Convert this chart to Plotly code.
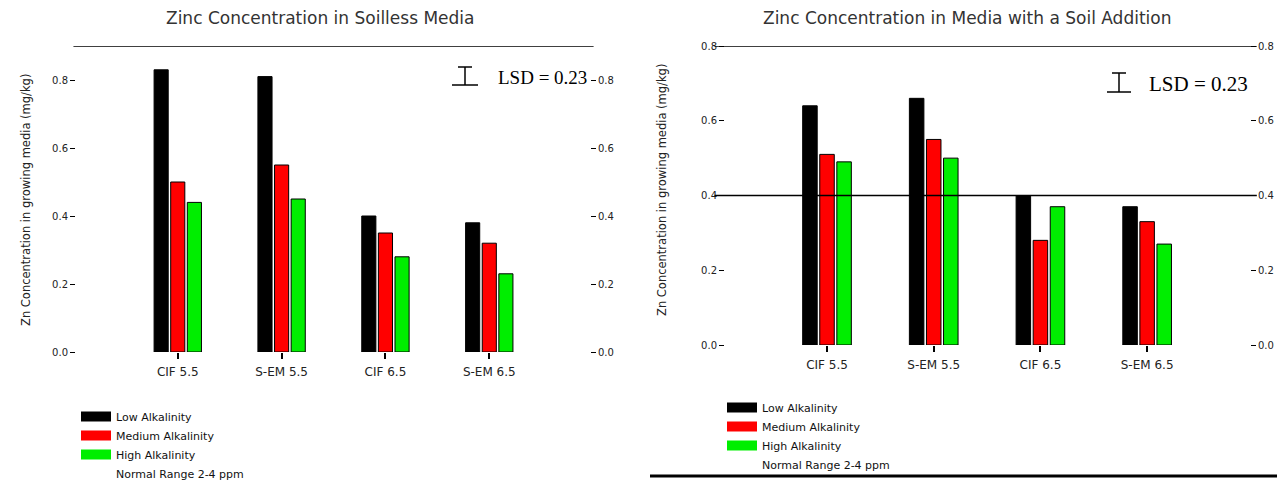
import plotly.graph_objects as go

# ---------------- data ----------------
categories = ["CIF 5.5", "S-EM 5.5", "CIF 6.5", "S-EM 6.5"]
series_names = ["Low Alkalinity", "Medium Alkalinity", "High Alkalinity"]
series_colors = ["#000000", "#ff0000", "#00ee00"]

soilless_low = [0.83, 0.81, 0.40, 0.38]
soilless_med = [0.50, 0.55, 0.35, 0.32]
soilless_high = [0.44, 0.45, 0.28, 0.23]

soil_low = [0.64, 0.66, 0.40, 0.37]
soil_med = [0.51, 0.55, 0.28, 0.33]
soil_high = [0.49, 0.50, 0.37, 0.27]

y_tick_values = [0.0, 0.2, 0.4, 0.6, 0.8]
y_tick_labels = ["0.0", "0.2", "0.4", "0.6", "0.8"]
left_ref_lines = [0.9]
right_ref_lines = [0.4, 0.8]
lsd_label = "LSD = 0.23"
normal_range_label = "Normal Range 2-4 ppm"
left_title = "Zinc Concentration in Soilless Media"
right_title = "Zinc Concentration in Media with a Soil Addition"
y_title = "Zn Concentration in growing media (mg/kg)"

# ---------------- layout helpers ----------------
# the page body has an 8px margin, so the figure is drawn 8px in from the window corner
OFF = 8
W, H = 1285 - OFF, 483 - OFF
def px(x):
    return (x - OFF) / W
def py(y):
    return 1 - (y - OFF) / H

SANS = "DejaVu Sans"
SERIF = "Liberation Serif"

fig = go.Figure()

left_sets = [soilless_low, soilless_med, soilless_high]
right_sets = [soil_low, soil_med, soil_high]

for name, color, vals in zip(series_names, series_colors, left_sets):
    fig.add_trace(go.Bar(x=categories, y=vals, name=name, marker=dict(color=color, line=dict(color="#000", width=1)),
                         xaxis="x", yaxis="y", offsetgroup=name, showlegend=False))
for name, color, vals in zip(series_names, series_colors, right_sets):
    fig.add_trace(go.Bar(x=categories, y=vals, name=name, marker=dict(color=color, line=dict(color="#000", width=1)),
                         xaxis="x2", yaxis="y2", offsetgroup=name, showlegend=False))

# dummy traces so the mirrored right-hand axes get drawn
fig.add_trace(go.Scatter(x=[categories[0]], y=[None], xaxis="x", yaxis="y3", showlegend=False, hoverinfo="skip"))
fig.add_trace(go.Scatter(x=[categories[0]], y=[None], xaxis="x2", yaxis="y4", showlegend=False, hoverinfo="skip"))

# legend entries (wide swatches)
for lg in ["legend", "legend2"]:
    for name, color in zip(series_names, series_colors):
        fig.add_trace(go.Scatter(x=[None], y=[None], mode="lines", name=name,
                                 line=dict(color=color, width=10), legend=lg, hoverinfo="skip"))
    fig.add_trace(go.Scatter(x=[None], y=[None], mode="lines", name=normal_range_label,
                             line=dict(color="rgba(0,0,0,0)", width=10), legend=lg, hoverinfo="skip"))

tickfont = dict(family=SANS, size=10, color="#222")
catfont = dict(family=SANS, size=12, color="#222")

def yax(domain, rng, anchor, side="left", overlay=None):
    d = dict(domain=domain, range=rng, tickvals=y_tick_values, ticktext=y_tick_labels, anchor=anchor,
             ticks="outside", ticklen=5, tickwidth=1, tickcolor="#000", showgrid=False,
             zeroline=False, showline=False, tickfont=tickfont, side=side, fixedrange=True)
    if overlay:
        d["overlaying"] = overlay
    return d

def xax(domain, rng, anchor):
    return dict(domain=domain, range=rng, type="category", categoryorder="array", categoryarray=categories,
                ticks="outside", ticklen=6, tickwidth=2, tickcolor="#000", showgrid=False, zeroline=False,
                showline=False, tickfont=catfont, anchor=anchor, ticklabelstandoff=3, fixedrange=True)

left_xd = [px(76), px(590)]
left_yd = [py(352), py(46)]
right_xd = [px(725), px(1250)]
right_yd = [py(345), py(46)]

legend_common = dict(xanchor="left", yanchor="top", bgcolor="rgba(0,0,0,0)", tracegroupgap=0,
                     font=dict(family=SANS, size=11, color="#111"), itemclick=False, itemdoubleclick=False)

fig.update_layout(
    width=W, height=H, margin=dict(l=0, r=0, t=0, b=0, autoexpand=False),
    paper_bgcolor="white", plot_bgcolor="white",
    barmode="group", bargap=0.52, bargroupgap=0.15,
    xaxis=xax(left_xd, [-0.98, 3.97], "y"),
    yaxis=yax(left_yd, [0, 0.9], "x"),
    yaxis3=yax(left_yd, [0, 0.9], "x", side="right", overlay="y"),
    xaxis2=xax(right_xd, [-0.956, 3.964], "y2"),
    yaxis2=yax(right_yd, [0, 0.8], "x2"),
    yaxis4=yax(right_yd, [0, 0.8], "x2", side="right", overlay="y2"),
    legend=dict(x=px(76), y=py(402), **legend_common),
    legend2=dict(x=px(722), y=py(393), **legend_common),
    showlegend=True,
)

shapes = []
for v in left_ref_lines:
    shapes.append(dict(type="line", xref="x domain", yref="y", x0=-0.005, x1=1.007, y0=v, y1=v,
                       line=dict(color="#000", width=1.5)))
for v in right_ref_lines:
    shapes.append(dict(type="line", xref="x2 domain", yref="y2", x0=-0.02, x1=1.013, y0=v, y1=v,
                       line=dict(color="#000", width=1.5)))

# LSD "I" markers
def lsd_marker(xc, top, bot, topw, botw):
    return [
        dict(type="line", xref="paper", yref="paper", x0=px(xc), x1=px(xc), y0=py(top), y1=py(bot), line=dict(color="#000", width=1.5)),
        dict(type="line", xref="paper", yref="paper", x0=px(xc - topw / 2), x1=px(xc + topw / 2), y0=py(top), y1=py(top), line=dict(color="#000", width=1.5)),
        dict(type="line", xref="paper", yref="paper", x0=px(xc - botw / 2), x1=px(xc + botw / 2), y0=py(bot), y1=py(bot), line=dict(color="#000", width=1.5)),
    ]
shapes += lsd_marker(465, 67, 85, 14, 26)
shapes += lsd_marker(1119, 73, 92, 14, 24)
# bottom frame line of right panel
shapes.append(dict(type="line", xref="paper", yref="paper", x0=px(650), x1=1, y0=py(476), y1=py(476),
                   line=dict(color="#000", width=3)))
fig.update_layout(shapes=shapes)

ann = []
ann.append(dict(text=left_title, x=px(320), y=py(18), xref="paper", yref="paper", showarrow=False,
                font=dict(family=SANS, size=17, color="#333"), xanchor="center", yanchor="middle"))
ann.append(dict(text=right_title, x=px(967), y=py(18), xref="paper", yref="paper", showarrow=False,
                font=dict(family=SANS, size=17, color="#333"), xanchor="center", yanchor="middle"))
ann.append(dict(text=y_title, x=px(26), y=py(200), xref="paper", yref="paper", showarrow=False, textangle=-90,
                font=dict(family=SANS, size=11.5, color="#222"), xanchor="center", yanchor="middle"))
ann.append(dict(text=y_title, x=px(662), y=py(190), xref="paper", yref="paper", showarrow=False, textangle=-90,
                font=dict(family=SANS, size=11.5, color="#222"), xanchor="center", yanchor="middle"))
ann.append(dict(text=lsd_label, x=px(496), y=py(77), xref="paper", yref="paper", showarrow=False,
                font=dict(family=SERIF, size=19, color="#000"), xanchor="left", yanchor="middle"))
ann.append(dict(text=lsd_label, x=px(1147), y=py(84), xref="paper", yref="paper", showarrow=False,
                font=dict(family=SERIF, size=21, color="#000"), xanchor="left", yanchor="middle"))
fig.update_layout(annotations=ann)

fig.write_html("out.html")
